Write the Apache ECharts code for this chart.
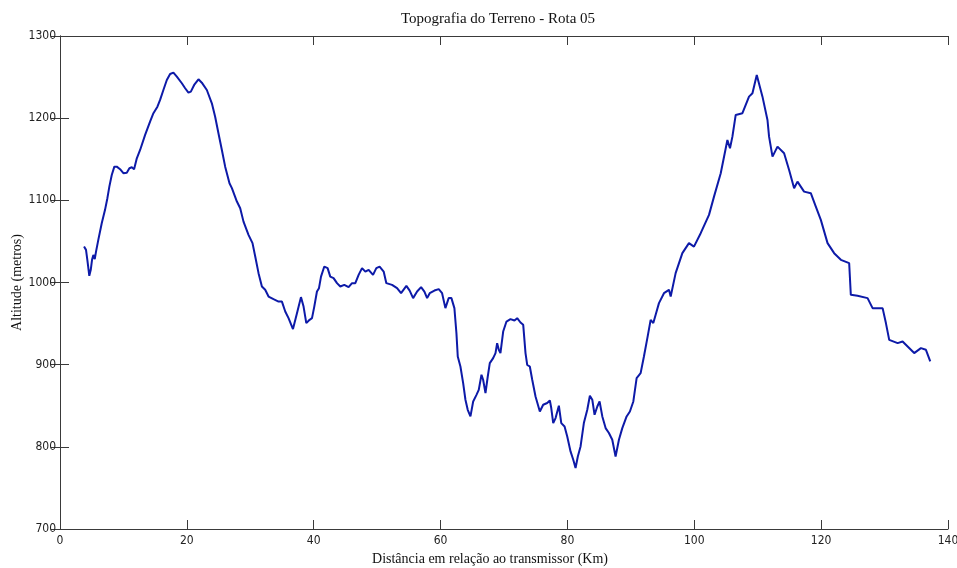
<!DOCTYPE html>
<html>
<head>
<meta charset="utf-8">
<script src="https://cdn.jsdelivr.net/npm/echarts@6/dist/echarts.min.js"></script>
<style>html,body{margin:0;padding:0;background:#fff}#c{width:957px;height:568px}</style>
</head>
<body>
<div id="c"></div>
<script>
const titleText = "Topografia do Terreno - Rota 05";
const xName = "Distância em relação ao transmissor (Km)";
const yName = "Altitude (metros)";
const xTicks = [0, 20, 40, 60, 80, 100, 120, 140];
const yTicks = [700, 800, 900, 1000, 1100, 1200, 1300];

const distanceKm = [
3.79,4.10,4.31,4.47,4.62,4.85,5.05,5.26,5.48,5.68,6.04,6.58,7.10,7.47,7.78,8.16,8.57,8.95,9.47,9.99,
10.53,10.94,11.32,11.68,12.11,12.63,13.42,14.20,14.73,15.36,15.78,16.30,16.84,17.36,17.88,18.42,19.21,19.73,20.25,20.63,
21.15,21.83,22.36,23.15,23.94,24.46,24.98,25.52,26.04,26.72,27.10,27.89,28.41,28.93,29.72,30.35,30.78,31.30,31.83,32.35,
32.88,33.66,34.45,34.99,35.51,36.03,36.73,37.36,37.99,38.40,38.83,39.35,39.73,40.09,40.51,40.83,41.15,41.67,42.19,42.61,
43.13,43.67,44.19,44.82,45.50,46.04,46.56,47.08,47.62,48.14,48.66,49.35,49.87,50.39,51.03,51.45,52.35,53.14,53.77,54.61,
55.13,55.67,56.30,56.93,57.45,57.88,58.29,59.03,59.71,60.24,60.76,61.28,61.71,62.18,62.50,62.71,63.13,63.56,63.92,64.28,
64.71,65.14,65.66,66.02,66.45,66.71,67.08,67.44,67.76,68.29,68.66,68.92,69.18,69.44,69.87,70.39,71.02,71.65,72.08,72.60,
73.03,73.39,73.66,74.07,74.45,74.97,75.65,76.18,76.81,77.23,77.45,77.76,78.13,78.65,79.03,79.55,79.97,80.49,80.92,81.28,
81.64,82.07,82.59,83.13,83.54,83.92,84.28,84.71,85.07,85.50,86.02,86.54,87.07,87.59,88.12,88.65,89.33,89.85,90.39,90.91,
91.54,92.06,92.60,93.12,93.54,93.91,94.43,95.22,96.01,96.28,97.06,98.12,99.16,99.95,101.01,102.32,103.11,104.17,105.22,105.63,
106.01,106.53,107.59,108.63,109.17,109.85,110.75,111.54,111.79,112.33,113.12,114.16,114.95,115.74,116.27,117.31,118.37,119.16,119.95,121.01,
122.05,123.11,124.42,124.68,125.74,127.32,128.11,129.69,130.21,130.73,132.06,132.84,134.67,135.73,136.52,137.20
];
const altitudeM = [
1043.7,1039.7,1027.6,1017.5,1008.1,1015.4,1027.6,1033.6,1028.4,1037.6,1051.9,1072.2,1088.4,1102.6,1116.7,1130.9,1141,1141,1137.9,1133,
1133.7,1139.1,1140.3,1137.9,1151.2,1161.3,1179.6,1195.8,1206,1214,1222.2,1234.3,1246.5,1253.8,1255.4,1250.5,1242.5,1236.4,1231,1232.3,
1240.4,1247.3,1243.2,1234.3,1218.1,1201.8,1181.7,1161.3,1141,1120.8,1114.8,1098.5,1090.4,1074.1,1058,1047.9,1031.6,1011.4,995.1,991.1,
982.9,979.7,976.8,976.8,964.7,956.6,943.3,962.7,982.2,970.7,950.6,954.6,956.6,970.7,989,993.1,1007.2,1019.4,1017.5,1007.2,
1005.3,999.2,995.1,997.1,994.3,999.2,999.2,1009.3,1017.5,1013.3,1015.4,1009.3,1017.5,1019.4,1013.3,999.2,997.1,993.1,987,995.9,
990.2,981,989,994.3,989,981,987,990.2,991.9,987,968.8,981,981,968.8,938.4,909.9,897.8,877.6,857.3,845.1,
837,855.2,863.3,869.4,887.7,881.6,865.4,885.6,901.9,908,914.1,926.2,918.1,914.1,940.3,952.5,955.4,953.7,956.6,951.3,
948.5,914.1,899.8,897.8,881.6,861.3,843,851.2,853.3,856.4,847.2,828.9,835,850,828.9,824.8,812.6,794.4,784.3,774.2,
788.3,800.5,828.9,845.1,862.1,857.3,839,849.1,855.2,837,822.8,816.8,808.6,788.3,808.6,822.8,837,843,855.2,883.7,
889.7,909.9,932.3,954.6,950.6,960.7,974.9,987,991.1,982.9,1011.4,1035.7,1047.9,1043.7,1060,1082.3,1104.5,1133,1173.5,1163.4,
1177.5,1203.9,1206,1226.2,1230.3,1252.6,1226.2,1197.8,1177.5,1153.2,1165.4,1157.3,1137,1114.8,1122.8,1110.6,1108.7,1092.4,1076.2,1047.9,
1035.7,1027.6,1023.5,985,983.8,981,968.8,968.8,950.6,930.2,926.2,928.2,914.1,920.1,918.1,903.9
];

const seriesData = distanceKm.map((x, i) => [x, altitudeM[i]]);
const serif = "'Liberation Serif', 'DejaVu Serif', serif";
const narrow = "'Liberation Sans Narrow', 'DejaVu Sans Condensed', 'Liberation Sans', sans-serif";
const axisColor = '#3a3a3a';

const chart = echarts.init(document.getElementById('c'), null, {renderer: 'canvas'});
const baseX = {
  type: 'value', min: xTicks[0], max: xTicks[xTicks.length - 1], interval: 20,
  axisLine: {show: true, lineStyle: {color: axisColor, width: 1}},
  axisTick: {show: true, inside: true, length: 9, lineStyle: {color: axisColor}},
  splitLine: {show: false}
};
const baseY = {
  type: 'value', min: yTicks[0], max: yTicks[yTicks.length - 1], interval: 100,
  axisLine: {show: true, lineStyle: {color: axisColor, width: 1}},
  axisTick: {show: true, inside: true, length: 9, lineStyle: {color: axisColor}},
  splitLine: {show: false}
};
chart.setOption({
  backgroundColor: '#ffffff',
  animation: false,
  title: {
    text: titleText, left: 493, top: 7, textAlign: 'center',
    textStyle: {fontFamily: serif, fontSize: 15, fontWeight: 'normal', color: '#111'}
  },
  grid: {left: 60, right: 9, top: 36, bottom: 39, containLabel: false, outerBoundsMode: 'none'},
  xAxis: [
    Object.assign({}, baseX, {
      position: 'bottom',
      name: xName, nameLocation: 'middle', nameGap: 23, nameMoveOverlap: false,
      nameTextStyle: {fontFamily: serif, fontSize: 14, color: '#111', padding: [0, 28, 0, 0]},
      axisLabel: {show: true, fontFamily: narrow, fontSize: 12, color: '#222', margin: 6,
        formatter: v => String(v)}
    }),
    Object.assign({}, baseX, {position: 'top', axisLabel: {show: false}})
  ],
  yAxis: [
    Object.assign({}, baseY, {
      position: 'left',
      name: yName, nameLocation: 'middle', nameGap: 36, nameRotate: 90, nameMoveOverlap: false,
      nameTextStyle: {fontFamily: serif, fontSize: 14, color: '#111'},
      axisLabel: {show: true, fontFamily: narrow, fontSize: 12, color: '#222', margin: 4,
        formatter: v => String(v)}
    }),
    Object.assign({}, baseY, {position: 'right', axisLabel: {show: false}})
  ],
  series: [{
    type: 'line', data: seriesData, xAxisIndex: 0, yAxisIndex: 0,
    showSymbol: false, smooth: false,
    lineStyle: {color: '#0d1aa8', width: 2},
    itemStyle: {color: '#0d1aa8'}
  }]
});
</script>
</body>
</html>
